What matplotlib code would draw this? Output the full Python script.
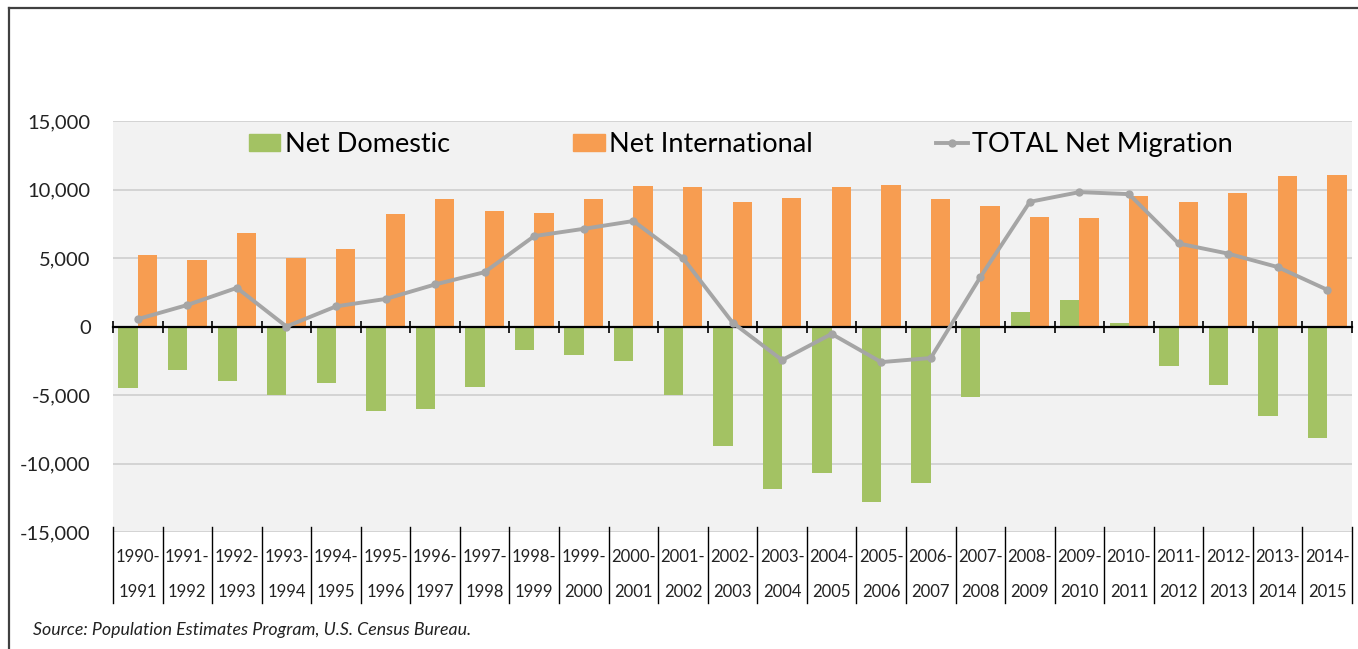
import matplotlib
matplotlib.use("Agg")
import matplotlib.pyplot as plt
import matplotlib.ticker as tck
from matplotlib.lines import Line2D
from matplotlib.patches import Patch

plt.rcParams["font.family"] = ["Lato", "DejaVu Sans"]

start_years = list(range(1990, 2015))
end_years = [y + 1 for y in start_years]

net_domestic = [-4500, -3210, -3950, -4980, -4120, -6150, -6050, -4400, -1690, -2050,
                -2500, -5020, -8750, -11840, -10710, -12820, -11450, -5120, 1030, 1960,
                220, -2860, -4260, -6520, -8150]
net_international = [5200, 4830, 6800, 5030, 5690, 8190, 9300, 8460, 8260, 9300,
                     10220, 10150, 9120, 9390, 10150, 10320, 9290, 8820, 7990, 7900,
                     9490, 9120, 9780, 10980, 11080]
total_net = [540, 1570, 2820, 0, 1470, 2010, 3070, 3970, 6600, 7130,
             7700, 5000, 290, -2450, -540, -2600, -2300, 3600, 9100, 9810,
             9660, 6060, 5320, 4340, 2680]

GREEN = "#A3C263"
ORANGE = "#F79D51"
GRAY = "#A5A5A5"

W, H = 1358, 649
fig = plt.figure(figsize=(W / 100, H / 100), dpi=100)
ax = fig.add_axes([113 / W, 1 - 532 / H, (1352 - 113) / W, (532 - 121) / H])
ax.set_facecolor("#F2F2F2")

x = list(range(len(start_years)))
bw = 0.39
ax.bar([i - bw / 2 for i in x], net_domestic, width=bw, color=GREEN, zorder=2)
ax.bar([i + bw / 2 for i in x], net_international, width=bw, color=ORANGE, zorder=2)
ax.plot(x, total_net, color=GRAY, lw=2.8, marker="o", markersize=5, zorder=4)

ax.set_xlim(-0.5, len(x) - 0.5)
ax.set_ylim(-15000, 15000)
ax.yaxis.set_major_locator(tck.MultipleLocator(5000))
ax.yaxis.set_major_formatter(tck.FuncFormatter(lambda v, p: "{:,.0f}".format(v)))
ax.tick_params(axis="y", length=0, pad=16, labelsize=14.5, labelcolor="#222222")
ax.grid(axis="y", color="#D4D4D4", lw=1.4, zorder=0)
ax.set_axisbelow(True)

for s in ["left", "right", "top"]:
    ax.spines[s].set_visible(False)
ax.spines["bottom"].set_position(("data", 0))
ax.spines["bottom"].set_color("black")
ax.spines["bottom"].set_linewidth(1.6)
ax.spines["bottom"].set_zorder(3)
ax.set_xticks([i - 0.5 for i in x] + [len(x) - 0.5])
ax.set_xticklabels([])
ax.tick_params(axis="x", direction="inout", length=8, width=1.2, color="black")

# category label table under the plot
trans = ax.get_xaxis_transform()
for b in [i - 0.5 for i in x] + [len(x) - 0.5]:
    ax.plot([b, b], [0.012, -0.173], transform=trans, color="black", lw=1, clip_on=False)
for i in x:
    ax.text(i, -0.061, "%d-" % start_years[i], transform=trans, ha="center", va="center",
            fontsize=12, color="#222222")
    ax.text(i, -0.146, "%d" % end_years[i], transform=trans, ha="center", va="center",
            fontsize=12, color="#222222")

handles = [Patch(color=GREEN), Patch(color=ORANGE),
           Line2D([], [], color=GRAY, lw=2.8, marker="o", markersize=5)]
ax.legend(handles, ["Net Domestic", "Net International", "TOTAL Net Migration"],
          ncol=3, loc="center", bbox_to_anchor=(0.507, 0.942), frameon=False,
          fontsize=19.5, handlelength=1.15, handleheight=0.6, handletextpad=0.18,
          columnspacing=4.55)

fig.text(33 / W, 1 - 630 / H, "Source: Population Estimates Program, U.S. Census Bureau.",
         fontsize=12.8, style="italic", va="center", color="#222222")

# outer chart frame (top and left edges visible)
fig.add_artist(Line2D([9 / W, 1], [1 - 8 / H, 1 - 8 / H], color="#404040", lw=1.6))
fig.add_artist(Line2D([9 / W, 9 / W], [1 - 8 / H, 0], color="#404040", lw=1.6))

fig.savefig("out.png", dpi=100)
